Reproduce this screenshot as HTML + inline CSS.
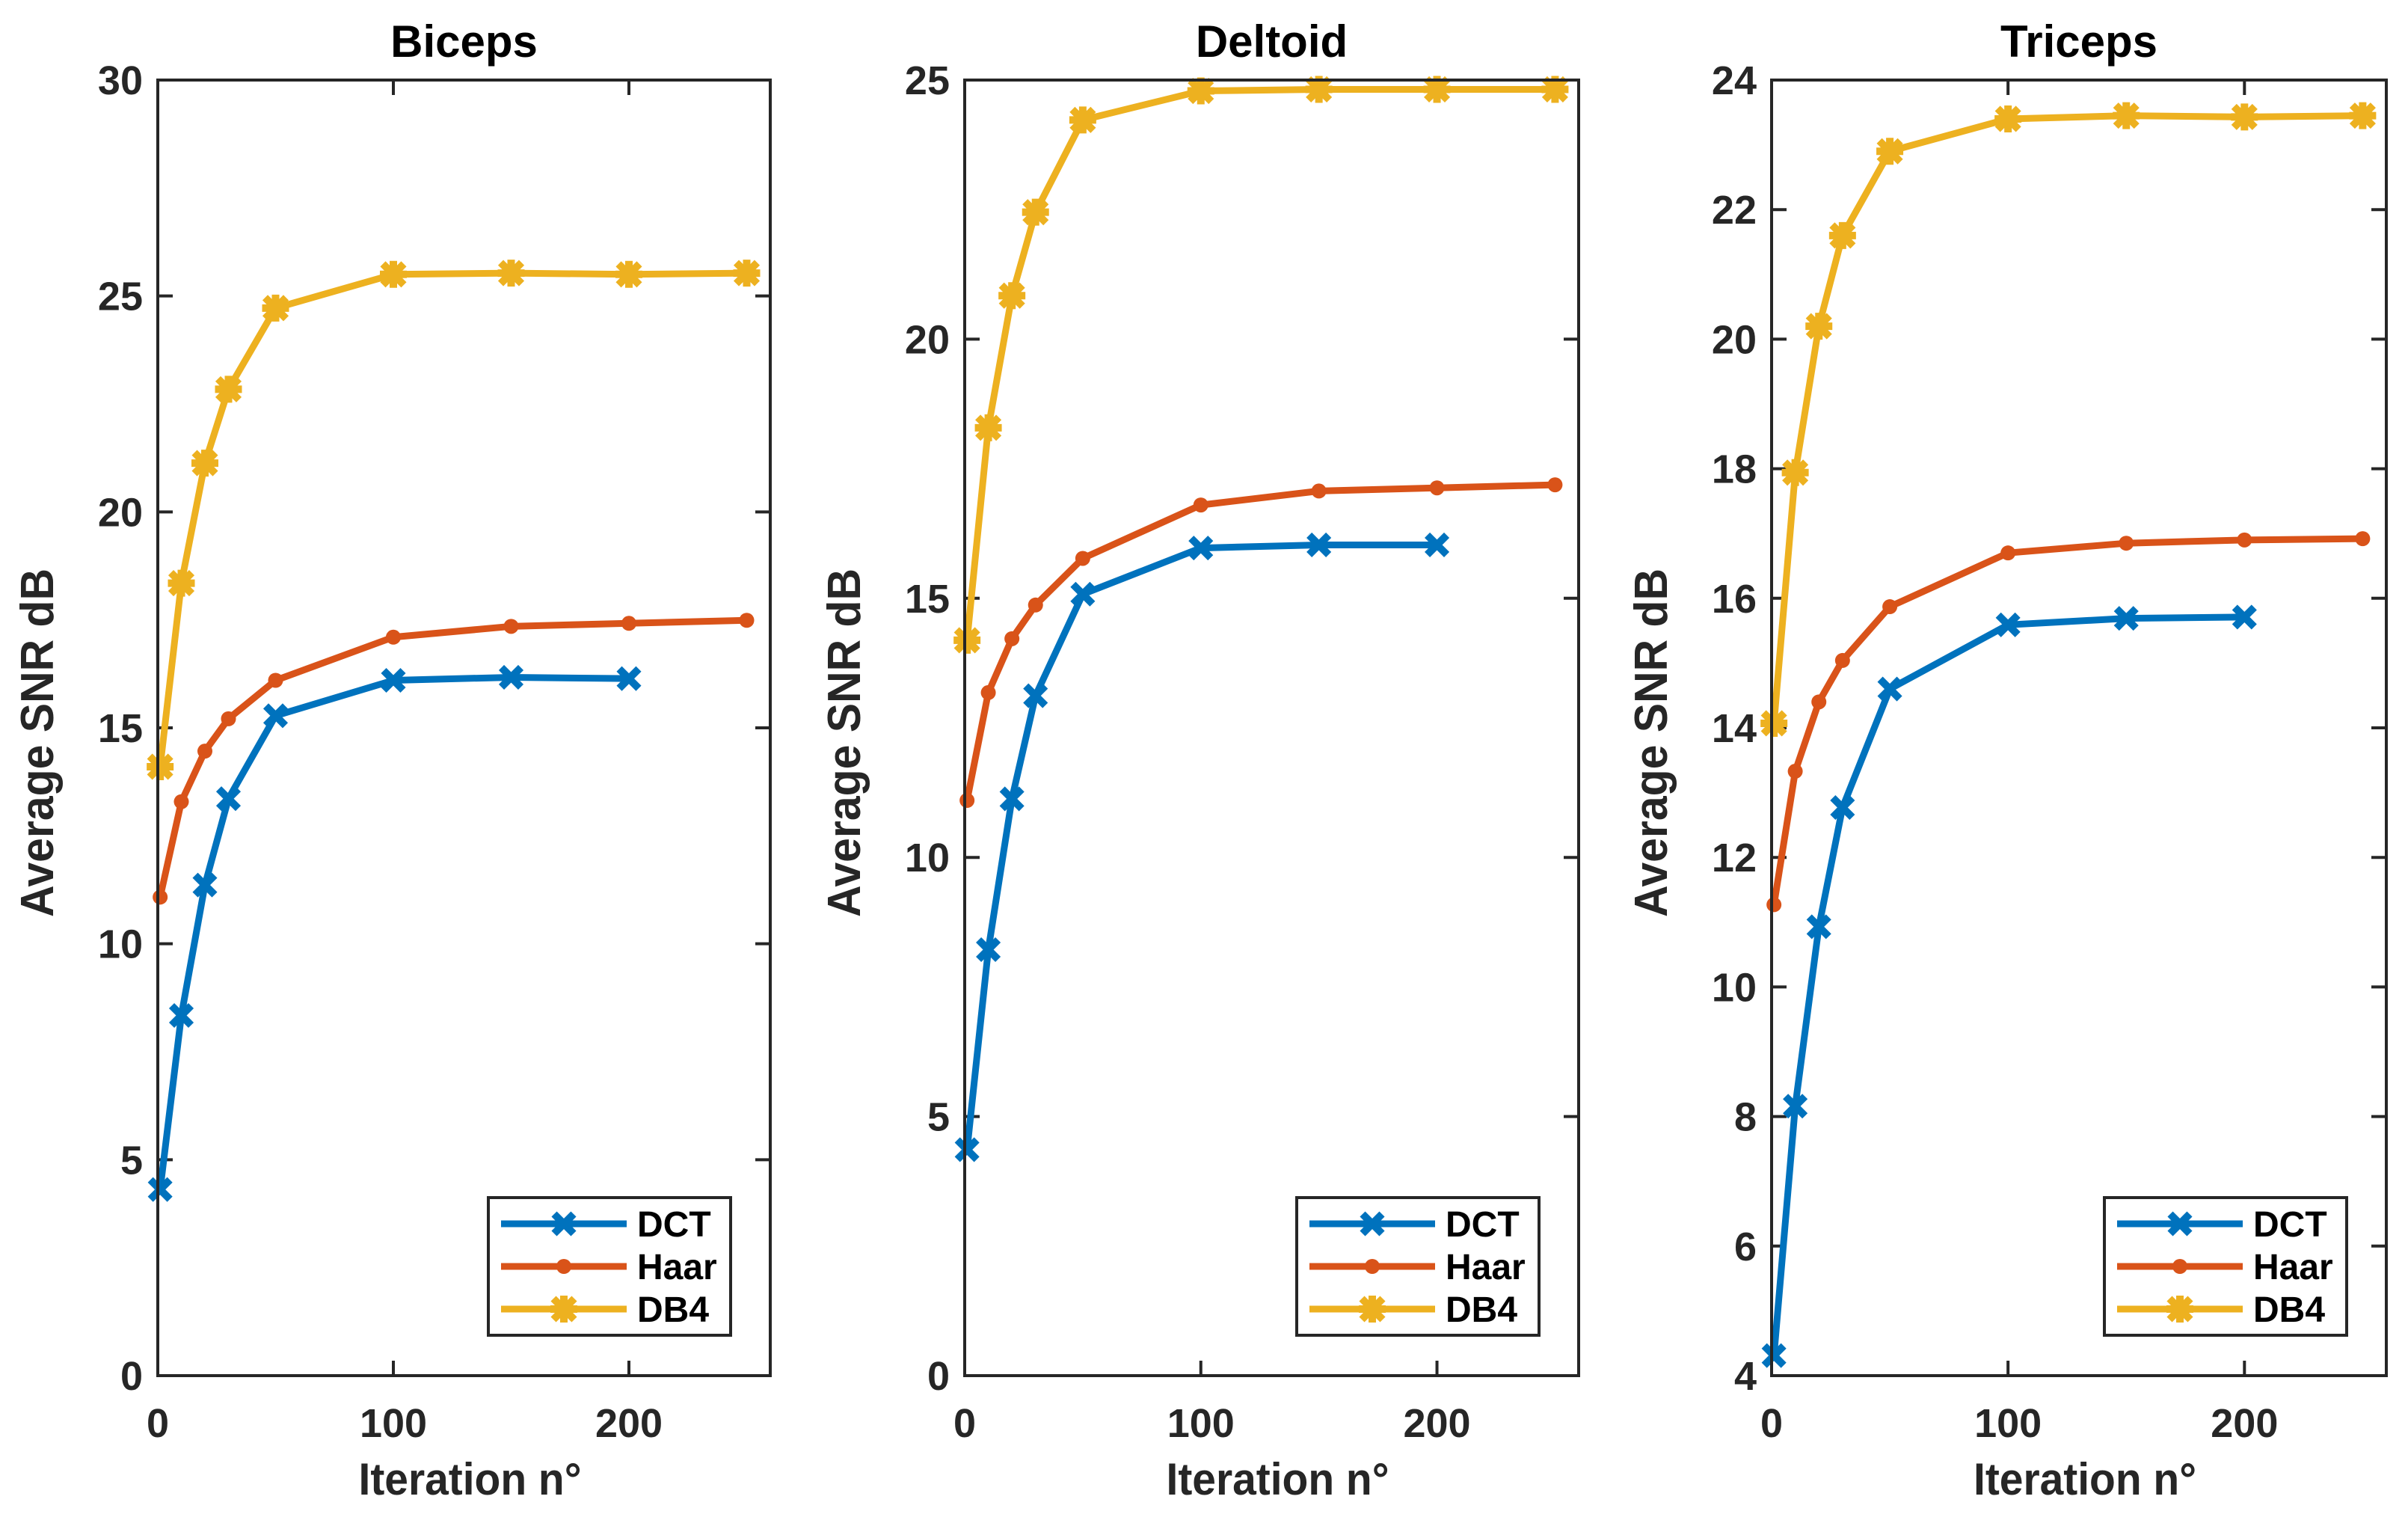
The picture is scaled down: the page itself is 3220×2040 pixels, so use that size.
<!DOCTYPE html>
<html><head><meta charset="utf-8">
<style>
html,body{margin:0;padding:0;background:#fff;}
svg{display:block;font-family:"Liberation Sans",Arial,sans-serif;}
</style></head>
<body>
<svg id="fig" width="3220" height="2040" viewBox="0 0 3220 2040" xmlns="http://www.w3.org/2000/svg"></svg>
<script>
const iterations = [1, 10, 20, 30, 50, 100, 150, 200, 250];
const bicepsDCT = [4.31, 8.34, 11.36, 13.36, 15.28, 16.10, 16.17, 16.14];
const bicepsHaar = [11.08, 13.29, 14.46, 15.21, 16.10, 17.10, 17.35, 17.42, 17.49];
const bicepsDB4 = [14.10, 18.35, 21.13, 22.84, 24.72, 25.50, 25.53, 25.50, 25.53];
const deltoidDCT = [4.36, 8.22, 11.13, 13.12, 15.08, 15.97, 16.03, 16.03];
const deltoidHaar = [11.10, 13.18, 14.22, 14.87, 15.77, 16.80, 17.07, 17.13, 17.19];
const deltoidDB4 = [14.19, 18.29, 20.84, 22.45, 24.23, 24.79, 24.82, 24.82, 24.82];
const tricepsDCT = [4.31, 8.16, 10.93, 12.77, 14.60, 15.59, 15.69, 15.71];
const tricepsHaar = [11.27, 13.33, 14.40, 15.04, 15.87, 16.70, 16.85, 16.90, 16.92];
const tricepsDB4 = [14.07, 17.94, 20.20, 21.60, 22.90, 23.40, 23.45, 23.43, 23.45];
const xTicks = [0, 100, 200];
const bicepsYTicks = [0, 5, 10, 15, 20, 25, 30];
const deltoidYTicks = [0, 5, 10, 15, 20, 25];
const tricepsYTicks = [4, 6, 8, 10, 12, 14, 16, 18, 20, 22, 24];
const seriesNames = ["DCT", "Haar", "DB4"];
const titles = ["Biceps", "Deltoid", "Triceps"];

(function () {
const NS = "http://www.w3.org/2000/svg";
const svg = document.getElementById("fig");
const colors = {DCT: "#0072BD", Haar: "#D95319", DB4: "#EDB120"};
const AX = "#262626";
function mk(tag, attrs, parent) {
  const e = document.createElementNS(NS, tag);
  for (const k in attrs) e.setAttribute(k, attrs[k]);
  (parent || svg).appendChild(e);
  return e;
}
function marker(g, type, cx, cy, col) {
  let m;
  if (type === "DCT") {
    m = mk("path", {d: `M${cx-13},${cy-13}L${cx+13},${cy+13}M${cx-13},${cy+13}L${cx+13},${cy-13}`, stroke: col, "stroke-width": 10, fill: "none"}, g);
  } else if (type === "Haar") {
    m = mk("circle", {cx: cx, cy: cy, r: 10, fill: col}, g);
  } else {
    m = mk("path", {d: `M${cx-14},${cy-14}L${cx+14},${cy+14}M${cx-14},${cy+14}L${cx+14},${cy-14}M${cx},${cy-18}L${cx},${cy+18}M${cx-18},${cy}L${cx+18},${cy}`, stroke: col, "stroke-width": 10, fill: "none"}, g);
  }
  
  
}

const panels = [
  {left: 211, right: 1030, ymin: 0, ymax: 30, yt: bicepsYTicks, data: [bicepsDCT, bicepsHaar, bicepsDB4]},
  {left: 1290, right: 2111, ymin: 0, ymax: 25, yt: deltoidYTicks, data: [deltoidDCT, deltoidHaar, deltoidDB4]},
  {left: 2369, right: 3191, ymin: 4, ymax: 24, yt: tricepsYTicks, data: [tricepsDCT, tricepsHaar, tricepsDB4]}
];
const axTop = 107, axBottom = 1839, xmin = 0, xmax = 260;

panels.forEach((p, pi) => {
  const g = mk("g", {});
  
  
  const X = v => p.left + (v - xmin) / (xmax - xmin) * (p.right - p.left);
  const Y = v => axBottom - (v - p.ymin) / (p.ymax - p.ymin) * (axBottom - axTop);

  xTicks.forEach(t => {
    const x = X(t);
    const tk = mk("path", {d: `M${x},${axBottom}V${axBottom-20}M${x},${axTop}V${axTop+20}`, stroke: AX, "stroke-width": 4}, g);
    
    
    const lb = mk("text", {x: x, y: 1921, "text-anchor": "middle", "font-size": 54, "font-weight": "bold", fill: AX}, g);
    lb.textContent = t;
    
    
  });
  p.yt.forEach(t => {
    const y = Y(t);
    const tk = mk("path", {d: `M${p.left},${y}H${p.left+20}M${p.right},${y}H${p.right-20}`, stroke: AX, "stroke-width": 4}, g);
    
    
    const lb = mk("text", {x: p.left - 20, y: y + 19, "text-anchor": "end", "font-size": 54, "font-weight": "bold", fill: AX}, g);
    lb.textContent = t;
    
    
  });

  seriesNames.forEach((s, si) => {
    const vals = p.data[si];
    const sg = mk("g", {}, g);
    
    
    const pts = vals.map((v, i) => `${X(iterations[i])},${Y(v)}`).join(" ");
    const pl = mk("polyline", {points: pts, fill: "none", stroke: colors[s], "stroke-width": 9, "stroke-linejoin": "round"}, sg);
    
    
    vals.forEach((v, i) => marker(sg, s, X(iterations[i]), Y(v), colors[s]));
  });

  const box = mk("rect", {x: p.left, y: axTop, width: p.right - p.left, height: axBottom - axTop, fill: "none", stroke: AX, "stroke-width": 4}, g);
  
  

  const tt = mk("text", {x: (p.left + p.right) / 2, y: 76, "text-anchor": "middle", "font-size": 60, "font-weight": "bold", fill: "#000"}, g);
  tt.textContent = titles[pi];
  
  

  const xc = (p.left + p.right) / 2 + 8;
  const xl = mk("text", {x: xc, y: 1998, "text-anchor": "middle", "font-size": 60, "font-weight": "bold", fill: AX, textLength: 298, lengthAdjust: "spacingAndGlyphs"}, g);
  xl.textContent = "Iteration n°";
  
  
  const yx = p.left - 140, yy = 993;
  const yl = mk("text", {x: yx, y: yy, "text-anchor": "middle", "font-size": 62, "font-weight": "bold", fill: AX, textLength: 466, lengthAdjust: "spacingAndGlyphs", transform: `rotate(-90 ${yx} ${yy})`}, g);
  yl.textContent = "Average SNR dB";
  
  

  const lg = mk("g", {}, g);
  
  
  const lx = p.right - 377, ly = 1601;
  mk("rect", {x: lx, y: ly, width: 324, height: 184, fill: "#fff", stroke: AX, "stroke-width": 4}, lg);
  seriesNames.forEach((s, si) => {
    const ry = ly + 35 + si * 57;
    const e = mk("g", {}, lg);
    
    
    mk("line", {x1: lx + 17, x2: lx + 185, y1: ry, y2: ry, stroke: colors[s], "stroke-width": 9}, e);
    marker(e, s, lx + 101, ry, colors[s]);
    const t = mk("text", {x: lx + 199, y: ry + 17, "font-size": 48, "font-weight": "bold", fill: "#000"}, e);
    t.textContent = s;
  });
});
})();
</script>
</body></html>
